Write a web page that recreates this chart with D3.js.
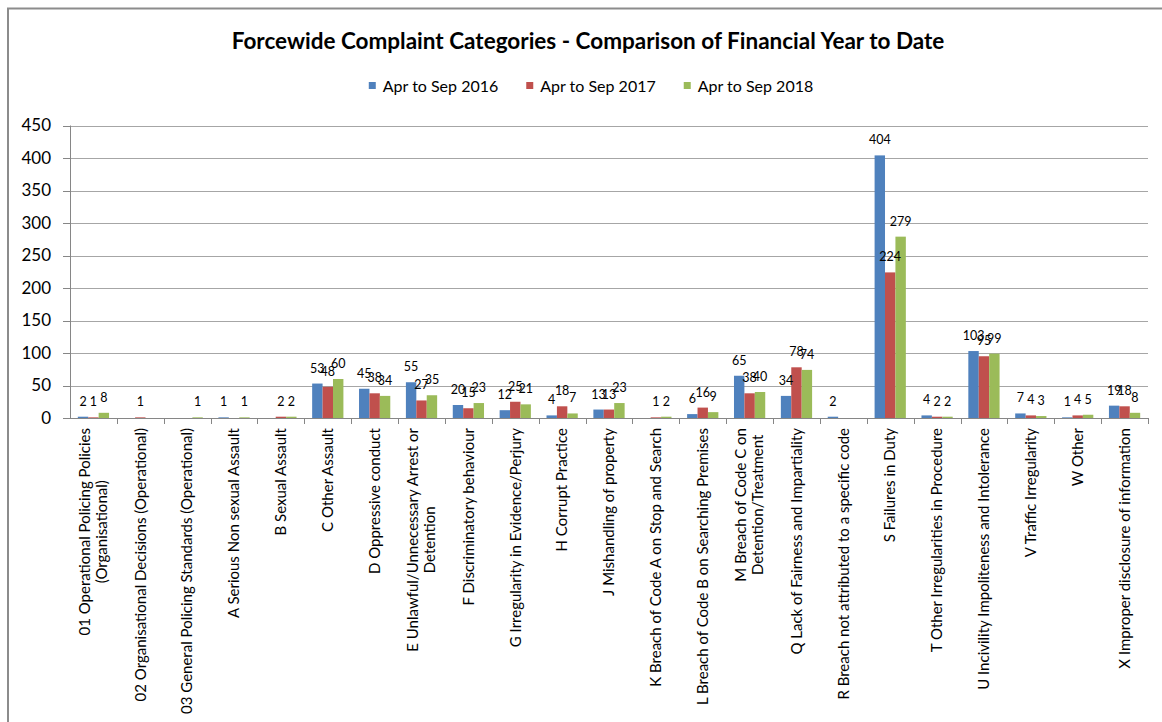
<!DOCTYPE html>
<html>
<head>
<meta charset="utf-8">
<script src="https://cdn.jsdelivr.net/npm/d3@7"></script>
<style>
  body { margin: 0; background: #fff; }
  svg { display: block; font-family: Lato, "Open Sans", sans-serif; }
  .grid line { stroke: #a6a6a6; stroke-width: 1; }
  .axis-line { stroke: #868686; stroke-width: 1; }
  .ylab { font-size: 17px; fill: #000; }
  .xlab { font-size: 15px; fill: #000; }
  .dlab { font-size: 12.5px; fill: #000; }
</style>
</head>
<body>
<svg class="chart" width="1162" height="722"></svg>
<script>
// categories, one entry per line of a (rotated) axis label
var categories = [
  ['01 Operational Policing Policies', '(Organisational)'],
  ['02 Organisational Decisions (Operational)'],
  ['03 General Policing Standards (Operational)'],
  ['A Serious Non sexual Assault'],
  ['B Sexual Assault'],
  ['C Other Assault'],
  ['D Oppressive conduct'],
  ['E Unlawful/Unnecessary Arrest or', 'Detention'],
  ['F Discriminatory behaviour'],
  ['G Irregularity in Evidence/Perjury'],
  ['H Corrupt Practice'],
  ['J Mishandling of property'],
  ['K Breach of Code A on Stop and Search'],
  ['L Breach of Code B on Searching Premises'],
  ['M Breach of Code C on', 'Detention/Treatment'],
  ['Q Lack of Fairness and Impartiality'],
  ['R Breach not attributed to a specific code'],
  ['S Failures in Duty'],
  ['T Other Irregularities in Procedure'],
  ['U Incivility Impoliteness and Intolerance'],
  ['V Traffic Irregularity'],
  ['W Other'],
  ['X Improper disclosure of information']
];

var seriesNames = ['Apr to Sep 2016', 'Apr to Sep 2017', 'Apr to Sep 2018'];
var seriesColors = ['#4f81bd', '#c0504d', '#9bbb59'];

var apr2016 = [2, null, null, 1, null, 53, 45, 55, 20, 12, 4, 13, null, 6, 65, 34, 2, 404, 4, 103, 7, 1, 19];
var apr2017 = [1, 1, null, null, 2, 48, 38, 27, 15, 25, 18, 13, 1, 16, 38, 78, null, 224, 2, 95, 4, 4, 18];
var apr2018 = [8, null, 1, 1, 2, 60, 34, 35, 23, 21, 7, 23, 2, 9, 40, 74, null, 279, 2, 99, 3, 5, 8];

var yTicks = [0, 50, 100, 150, 200, 250, 300, 350, 400, 450];

var chartTitle = 'Forcewide Complaint Categories - Comparison of Financial Year to Date';

(function(){
	var svg = d3.select('svg.chart');
	var seriesValues = [apr2016, apr2017, apr2018];

	var plot = { left: 70, right: 1148, top: 125.5, bottom: 418 };

	// outer chart frame (runs off the right and bottom edge of the picture)
	svg.append('path')
	   .attr('d', 'M8,723 L8,8.5 L1163,8.5')
	   .attr('fill', 'none')
	   .attr('stroke', '#8c8c8c')
	   .attr('stroke-width', 2);

	var keys = categories.map(function(c, i){ return 'c' + i; });

	var x = d3.scaleBand().domain(keys).range([plot.left, plot.right]).padding(0);
	var xs = d3.scaleBand().domain(d3.range(seriesNames.length))
	           .range([0, x.bandwidth()]).paddingInner(0).paddingOuter(0.75);
	var y = d3.scaleLinear().domain([0, 450]).range([plot.bottom, plot.top]);

	// title
	svg.append('text')
	   .attr('x', 588).attr('y', 49)
	   .attr('text-anchor', 'middle')
	   .style('font-size', '22.5px')
	   .style('font-weight', 'bold')
	   .text(chartTitle);

	// legend
	var legend = svg.append('g');
	var lx = 0;
	seriesNames.forEach(function(name, i){
		var item = legend.append('g').attr('transform', 'translate(' + lx + ',0)');
		item.append('rect').attr('x', 0).attr('y', -4).attr('width', 7).attr('height', 7)
		    .attr('fill', seriesColors[i]);
		var t = item.append('text').attr('x', 14).attr('y', 5.5)
		    .style('font-size', '16px').text(name);
		lx += 14 + t.node().getComputedTextLength() + 28;
	});
	var legendW = lx - 28;
	legend.attr('transform', 'translate(' + (591 - legendW / 2) + ',86)');

	// gridlines + y labels
	var grid = svg.append('g').attr('class', 'grid');
	yTicks.forEach(function(v){
		if(v > 0){
			grid.append('line')
			    .attr('x1', plot.left).attr('x2', plot.right)
			    .attr('y1', Math.round(y(v)) + 0.5).attr('y2', Math.round(y(v)) + 0.5);
		}
		svg.append('line').attr('class', 'axis-line')
		   .attr('x1', plot.left - 7).attr('x2', plot.left)
		   .attr('y1', Math.round(y(v)) + 0.5).attr('y2', Math.round(y(v)) + 0.5);
		svg.append('text').attr('class', 'ylab')
		   .attr('x', 51).attr('y', y(v))
		   .attr('dy', '0.35em')
		   .attr('text-anchor', 'end')
		   .text(v);
	});

	// bars
	var bars = svg.append('g');
	seriesValues.forEach(function(vals, s){
		vals.forEach(function(v, i){
			if(v === null) return;
			bars.append('rect')
			    .attr('x', x(keys[i]) + xs(s))
			    .attr('width', xs.bandwidth())
			    .attr('y', y(v))
			    .attr('height', y(0) - y(v))
			    .attr('fill', seriesColors[s]);
		});
	});

	// axes
	svg.append('line').attr('class', 'axis-line')
	   .attr('x1', plot.left + 0.5).attr('x2', plot.left + 0.5)
	   .attr('y1', plot.top).attr('y2', plot.bottom);
	svg.append('line').attr('class', 'axis-line')
	   .attr('x1', plot.left).attr('x2', plot.right)
	   .attr('y1', Math.round(y(0)) + 0.5).attr('y2', Math.round(y(0)) + 0.5);
	keys.forEach(function(k){
		var xt = Math.round(x(k) + x.bandwidth()) + 0.5;
		svg.append('line').attr('class', 'axis-line')
		   .attr('x1', xt).attr('x2', xt)
		   .attr('y1', plot.bottom).attr('y2', plot.bottom + 6);
	});

	// data labels
	var dl = svg.append('g');
	seriesValues.forEach(function(vals, s){
		vals.forEach(function(v, i){
			if(v === null) return;
			dl.append('text').attr('class', 'dlab')
			  .attr('x', x(keys[i]) + xs(s) + xs.bandwidth() / 2)
			  .attr('y', y(v) - 11)
			  .attr('text-anchor', 'middle')
			  .text(v);
		});
	});

	// rotated category labels, lines centred on each other
	var lineH = 17;
	categories.forEach(function(lines, i){
		var cx = x(keys[i]) + x.bandwidth() / 2;
		var g = svg.append('g')
		           .attr('transform', 'translate(' + cx + ',428) rotate(-90)');
		var texts = lines.map(function(l, j){
			return g.append('text').attr('class', 'xlab')
			        .attr('text-anchor', 'middle')
			        .attr('dy', '0.35em')
			        .attr('y', (j - (lines.length - 1) / 2) * lineH)
			        .text(l);
		});
		var maxW = d3.max(texts, function(t){ return t.node().getComputedTextLength(); });
		texts.forEach(function(t){ t.attr('x', -maxW / 2); });
	});
})();
</script>
</body>
</html>
